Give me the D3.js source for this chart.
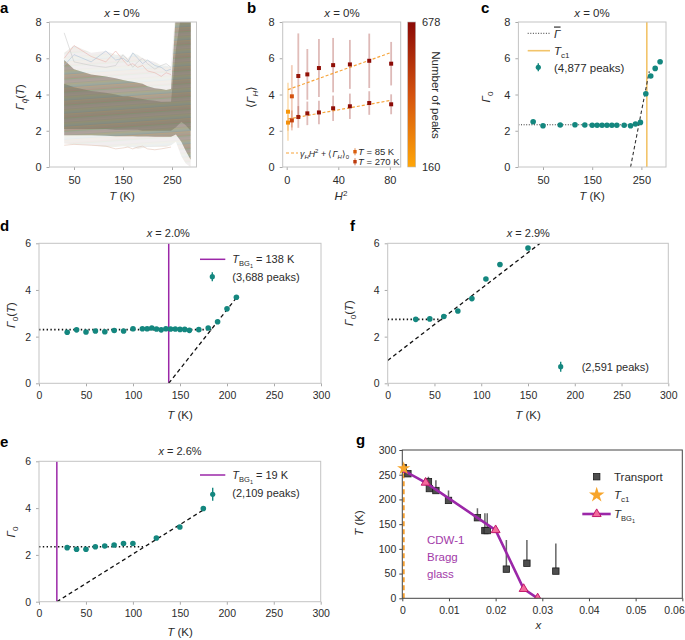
<!DOCTYPE html>
<html><head><meta charset="utf-8">
<script src="https://cdn.jsdelivr.net/npm/d3@7"></script>
<style>body{margin:0;background:#fff;}svg{display:block;}</style>
</head><body><svg id="c" width="685" height="640"></svg>
<script>
// ---------- DATA ----------
// panel a: envelope of the 4,877 individual traces
const aT       = [30,50,85,115,135,150,160,170,180,190,200,215,228,238,248,258,269,278,288];
const aOuterHi = [6.3,6.7,6.3,6.4,6.2,6.2,6.0,6.3,6.2,6.0,5.9,5.8,5.6,5.6,5.5,9,9,9,9];
const aOuterLo = [1.3,1.25,1.2,1.1,1.1,1.15,1.1,1.1,1.0,1.05,1.1,1.1,1.1,1.1,1.2,1.4,0.6,0.2,0.0];
const aMidHi   = [5.9,5.4,5.1,5.0,4.9,4.8,4.75,4.7,4.65,4.6,4.45,4.35,4.3,4.25,4.3,8.5,9,9,9];
const aMidLo   = [1.75,1.75,1.75,1.72,1.7,1.7,1.7,1.7,1.68,1.68,1.68,1.67,1.67,1.67,1.67,1.8,1.4,0.9,0.4];
const aCoreHi  = [4.6,4.4,4.2,4.1,4.0,3.9,3.9,3.85,3.8,3.75,3.7,3.65,3.6,3.6,3.6,6.5,8.5,9,9];
const aCoreLo  = [2.1,2.1,2.1,2.1,2.05,2.05,2.05,2.05,2.05,2.0,2.0,2.0,2.0,2.0,2.0,2.2,2.5,2.3,2.0];
const aTrace1  = [6.0,6.7,6.1,5.8,6.4,5.9,5.6,5.7,5.5,5.6,5.3,5.2,5.0,5.2,5.1];
const aTrace2  = [5.6,6.2,5.8,6.4,5.9,6.0,5.8,6.3,6.0,5.7,5.9,5.6,5.5,5.3,5.4];
const aTrace3  = [7.4,5.8,5.6,5.5,5.6,6.2,5.9,5.5,5.8,6.0,5.7,5.4,5.6,5.7,5.5];
const aTrace4  = [1.2,1.25,1.2,1.15,1.0,1.05,1.1,1.0,1.1,1.15,1.0,0.95,1.0,1.05,1.1];

// panel b
const bH2 = [1,4,9,16,25,36,49,64,81];
const b270 = [3.05,3.9,5.02,5.11,5.46,5.62,5.66,5.86,5.7];
const b270Err = [1.6,1.72,2.35,1.4,1.6,1.5,1.35,1.5,1.2];
const b270Peaks = [210,420,640,650,660,665,670,675,678];
const b85 = [2.45,2.57,2.76,2.96,3.01,3.24,3.35,3.53,3.46];
const b85Err = [0.45,0.55,0.6,0.65,0.65,0.7,0.7,0.65,0.55];
const b85Peaks = [230,470,610,650,660,665,670,675,678];
const bFit270 = [[1,4.27],[81,6.32]];
const bFit85 = [[1,2.65],[81,3.68]];
const peakRange = [160,678];

// panel c
const cT = [30,50,85,115,135,150,160,170,180,190,200,215,228,238,248,259,269,278,288];
const cG = [2.5,2.28,2.32,2.33,2.32,2.3,2.3,2.3,2.3,2.3,2.3,2.3,2.28,2.37,2.46,4.04,5.02,5.44,5.81];
const cMean = [[0,2.33],[245,2.33]];
const cFit = [[228,0],[266,5.28]];
const cTc1 = 261;

// panel d
const dT = [30,40,50,60,70,80,90,100,110,115,120,125,130,135,140,145,150,155,160,170,180,190,200,210];
const dG = [2.19,2.29,2.2,2.24,2.21,2.26,2.24,2.34,2.34,2.34,2.37,2.33,2.29,2.34,2.33,2.33,2.31,2.31,2.27,2.3,2.37,2.64,3.19,3.69];
const dMean = [[0,2.3],[186,2.3]];
const dFit = [[138,0],[210.5,3.69]];
const dTBG = 138;

// panel e
const eT = [30,40,50,60,70,80,90,100,125,150,175];
const eG = [2.31,2.24,2.24,2.35,2.38,2.42,2.49,2.49,2.72,3.19,3.98];
const eMean = [[0,2.35],[113,2.35]];
const eFit = [[19,0],[175,3.92]];
const eTBG = 19;

// panel f
const fT = [30,45,60,75,90,105,120,150];
const fG = [2.74,2.76,2.86,3.1,3.63,4.47,5.09,5.8];
const fMean = [[0,2.74],[60,2.74]];
const fFit = [[0,0.98],[163,6]];

// panel g
const gTransX = [0.0002,0.0012,0.0056,0.0058,0.0072,0.0099,0.0161,0.0177,0.0182,0.0223,0.0267,0.0329];
const gTransT = [264,252,236,222,218,198,163,137,137,59,71,55];
const gTransTop = [264,258,246,222,239,218,182,172,172,118,118,111];
const gBGx = [0,0.005,0.020,0.026,0.029];
const gBGT = [260,234,138,19,0];
const gTc1 = [0.0003,263];

// ticks
const tTicks300 = [0,50,100,150,200,250,300];
const tTicksA = [50,150,250];
const gXTicks = [0,0.01,0.02,0.03,0.04,0.05,0.06];
const gYTicks = [0,50,100,150,200,250,300];

// ---------- DRAWING ----------
const FONT = '"Liberation Sans", Arial, Helvetica, sans-serif';
const TXT = '#2b2b2b';
const TEAL = '#14877f';
const PURPLE = '#9b27a8';
const svg = d3.select('#c');
const defs = svg.append('defs');

function rich(parent, x, y, parts, o = {}) {
  const fs = o.fs || 11;
  const t = parent.append('text').attr('x', x).attr('y', y).attr('font-size', fs)
    .attr('fill', o.fill || TXT).attr('font-family', FONT).attr('text-anchor', o.anchor || 'start');
  if (o.rot) t.attr('transform', `rotate(${o.rot},${x},${y})`);
  let cur = 0;
  parts.forEach(p => {
    if (typeof p === 'string') p = { t: p };
    const s = p.s || 0;
    const ts = t.append('tspan').text(p.t).attr('dy', s - cur);
    cur = s;
    if (p.i) ts.attr('font-style', 'italic');
    if (p.f) ts.attr('font-size', p.f);
    if (p.o) ts.attr('text-decoration', 'overline');
  });
  return t;
}

function makePanel(id, px, py, xdom, ydom, opt) {
  const x = d3.scaleLinear().domain(xdom).range(px);
  const y = d3.scaleLinear().domain(ydom).range(py);
  const g = svg.append('g');
  defs.append('clipPath').attr('id', 'clip-' + id).append('rect')
    .attr('x', px[0]).attr('y', py[1]).attr('width', px[1] - px[0]).attr('height', py[0] - py[1]);
  const fmt = opt.xf || (d => d);
  const ax = g.append('g').attr('transform', `translate(0,${py[0]})`)
    .call(d3.axisBottom(x).tickValues(opt.xt).tickFormat(fmt).tickSize(3).tickPadding(opt.xpad || 5));
  const ay = g.append('g').attr('transform', `translate(${px[0]},0)`)
    .call(d3.axisLeft(y).tickValues(opt.yt).tickFormat(d => d).tickSize(3).tickPadding(opt.ypad || 5));
  [ax, ay].forEach(a => {
    a.select('.domain').remove();
    a.selectAll('line').attr('stroke', opt.tc || '#aaa');
    a.selectAll('text').attr('fill', TXT).attr('font-size', opt.fs).attr('font-family', FONT);
  });
  const plot = g.append('g').attr('clip-path', `url(#clip-${id})`);
  g.append('rect').attr('x', px[0]).attr('y', py[1]).attr('width', px[1] - px[0]).attr('height', py[0] - py[1])
    .attr('fill', 'none').attr('stroke', opt.frame || '#c4c4c4').attr('stroke-width', 1);
  return { x, y, g, plot, ax, ay };
}

function seg(P, pts, style) {
  const line = d3.line().x(d => P.x(d[0])).y(d => P.y(d[1]));
  return P.plot.append('path').attr('d', line(pts)).attr('fill', 'none')
    .attr('stroke', style.c || '#111').attr('stroke-width', style.w || 1.3)
    .attr('stroke-dasharray', style.dash || null);
}
const DOT = { c: '#111', w: 1.6, dash: '1.4,2.4' };
const DASH = { c: '#111', w: 1.3, dash: '4,3' };

function tealPoints(P, xs, ys) {
  P.plot.selectAll(null).data(xs).enter().append('circle')
    .attr('cx', d => P.x(d)).attr('cy', (d, i) => P.y(ys[i])).attr('r', 2.8).attr('fill', TEAL);
}
function tealLegendMarker(g, x, y, h) {
  g.append('line').attr('x1', x).attr('x2', x).attr('y1', y - h).attr('y2', y + h).attr('stroke', TEAL).attr('stroke-width', 1.4);
  g.append('circle').attr('cx', x).attr('cy', y).attr('r', 2.6).attr('fill', TEAL);
}
function panelLabel(x, y, s) {
  svg.append('text').attr('x', x).attr('y', y).text(s).attr('font-family', FONT)
    .attr('font-weight', 'bold').attr('font-size', 15).attr('fill', '#000');
}

// ===== panel a =====
const tab10 = ['#1f77b4','#ff7f0e','#8c564b','#d62728','#2ca02c','#9467bd','#e377c2','#7f7f7f','#bcbd22','#17becf'];
const pat = defs.append('pattern').attr('id', 'traces').attr('patternUnits', 'userSpaceOnUse')
  .attr('width', 60).attr('height', 13).attr('patternTransform', 'rotate(-4)');
tab10.forEach((c, i) => pat.append('rect').attr('x', 0).attr('y', i * 1.3).attr('width', 60).attr('height', 0.8).attr('fill', c).attr('opacity', 0.5));

const A = makePanel('a', [49.5, 196.5], [167, 22], [0, 300], [0, 8], { xt: tTicksA, yt: [0,2,4,6,8], fs: 11, xpad: 6 });
function band(P, lo, hi, fill, op) {
  const ar = d3.area().x((d, i) => P.x(aT[i])).y0((d, i) => P.y(lo[i])).y1((d, i) => P.y(hi[i]));
  return P.plot.append('path').attr('d', ar(aT)).attr('fill', fill).attr('opacity', op);
}
band(A, aOuterLo, aOuterHi, '#e9e7e3', 0.55);
band(A, aOuterLo, aOuterHi, 'url(#traces)', 0.12);
band(A, aMidLo, aMidHi, '#aba797', 1);
band(A, aMidLo, aMidHi, 'url(#traces)', 0.35);
band(A, aCoreLo, aCoreHi, '#8f8b79', 1);
band(A, aCoreLo, aCoreHi, 'url(#traces)', 0.25);
[[aTrace1,'#e8b0a8'],[aTrace2,'#a8c0d8'],[aTrace3,'#c8c8c8'],[aTrace4,'#e0c0b0']].forEach(([tr, c]) => {
  const ln = d3.line().x((d, i) => A.x(aT[i])).y(d => A.y(d));
  A.plot.append('path').attr('d', ln(tr)).attr('fill', 'none').attr('stroke', c).attr('stroke-width', 0.7).attr('opacity', 0.8);
});
rich(svg, 122, 17, [{ t: 'x', i: 1 }, ' = 0%'], { anchor: 'middle', fs: 11.5 });
rich(svg, 122, 200, [{ t: 'T', i: 1 }, ' (K)'], { anchor: 'middle', fs: 11.5 });
rich(svg, 24, 97, [{ t: 'Γ', i: 1 }, { t: 'q̃', i: 1, s: 3, f: 8 }, { t: '(' }, { t: 'T', i: 1 }, ')'], { anchor: 'middle', rot: -90, fs: 11.5 });
panelLabel(0, 13, 'a');

// ===== panel b =====
const B = makePanel('b', [282.7, 400.7], [167, 22], [-3.1, 88.4], [0, 8], { xt: [0, 40, 80], yt: [0,2,4,6,8], fs: 11, xpad: 6 });
const pcol = d3.scaleLinear().domain([peakRange[0], (peakRange[0] + peakRange[1]) / 2, peakRange[1]])
  .range(['#ffa608', '#d4520f', '#8b0a06']);
function bSeries(vals, errs, peaks) {
  bH2.forEach((h, i) => {
    B.plot.append('line').attr('x1', B.x(h)).attr('x2', B.x(h)).attr('y1', B.y(vals[i] - errs[i])).attr('y2', B.y(vals[i] + errs[i]))
      .attr('stroke', pcol(peaks[i])).attr('stroke-width', 1.8).attr('opacity', 0.28);
  });
}
bSeries(b270, b270Err, b270Peaks);
bSeries(b85, b85Err, b85Peaks);
seg(B, bFit270, { c: '#f7a43a', w: 1.2, dash: '3,2' });
seg(B, bFit85, { c: '#f7a43a', w: 1.2, dash: '3,2' });
[[b270, b270Peaks], [b85, b85Peaks]].forEach(([vals, peaks]) => {
  bH2.forEach((h, i) => {
    B.plot.append('rect').attr('x', B.x(h) - 2).attr('y', B.y(vals[i]) - 2).attr('width', 4).attr('height', 4).attr('fill', pcol(peaks[i]));
  });
});
// legend b
svg.append('line').attr('x1', 286).attr('x2', 298).attr('y1', 153).attr('y2', 153).attr('stroke', '#f7a43a').attr('stroke-width', 1.2).attr('stroke-dasharray', '3,2');
rich(svg, 300, 156.5, [{ t: 'γ', i: 1 }, { t: 'H', i: 1, s: 2.5, f: 6 }, { t: 'H', i: 1 }, { t: '2', s: -3.5, f: 6 }, ' + ⟨', { t: 'Γ', i: 1 }, { t: 'H', i: 1, s: 2.5, f: 6 }, '⟩', { t: '0', s: 2.5, f: 6 }], { fs: 8.8 });
[[151.7, 380], [161.7, 500]].forEach(([yy, pk]) => {
  svg.append('line').attr('x1', 355).attr('x2', 355).attr('y1', yy - 3.5).attr('y2', yy + 3.5).attr('stroke', pcol(pk)).attr('stroke-width', 1.2).attr('opacity', 0.6);
  svg.append('rect').attr('x', 353.3).attr('y', yy - 1.7).attr('width', 3.4).attr('height', 3.4).attr('fill', pcol(pk));
});
rich(svg, 358, 155.3, [{ t: 'T', i: 1 }, ' = 85 K'], { fs: 9.5 });
rich(svg, 358, 165.3, [{ t: 'T', i: 1 }, ' = 270 K'], { fs: 9.5 });
// colorbar
const grad = defs.append('linearGradient').attr('id', 'cbar').attr('x1', 0).attr('x2', 0).attr('y1', 1).attr('y2', 0);
d3.range(0, 1.01, 0.1).forEach(t => grad.append('stop').attr('offset', t).attr('stop-color', pcol(peakRange[0] + t * (peakRange[1] - peakRange[0]))));
svg.append('rect').attr('x', 407.7).attr('y', 22).attr('width', 8).attr('height', 145).attr('fill', 'url(#cbar)').attr('stroke', '#bbb').attr('stroke-width', 0.6);
rich(svg, 422, 26, [String(peakRange[1])], { fs: 11 });
rich(svg, 422, 171, [String(peakRange[0])], { fs: 11 });
rich(svg, 432, 95, ['Number of peaks'], { anchor: 'middle', rot: 90, fs: 11.5 });
rich(svg, 342, 17, [{ t: 'x', i: 1 }, ' = 0%'], { anchor: 'middle', fs: 11.5 });
rich(svg, 341, 200, [{ t: 'H', i: 1 }, { t: '2', s: -4, f: 8 }], { anchor: 'middle', fs: 11.5 });
rich(svg, 255, 97, ['⟨', { t: 'Γ', i: 1 }, { t: 'H', i: 1, s: 3, f: 8 }, { t: '⟩', s: 0 }], { anchor: 'middle', rot: -90, fs: 11.5 });
panelLabel(247, 13, 'b');

// ===== panel c =====
const C = makePanel('c', [518.4, 666], [167, 22], [0, 300], [0, 8], { xt: tTicksA, yt: [0,2,4,6,8], fs: 11, xpad: 6 });
C.plot.append('line').attr('x1', C.x(cTc1)).attr('x2', C.x(cTc1)).attr('y1', C.y(0)).attr('y2', C.y(8)).attr('stroke', '#f2c46a').attr('stroke-width', 1.6);
seg(C, cMean, { c: '#333', w: 1, dash: '1,1.6' });
seg(C, cFit, { c: '#333', w: 1.1, dash: '3.5,2.5' });
tealPoints(C, cT, cG);
svg.append('line').attr('x1', 527.7).attr('x2', 550).attr('y1', 33.3).attr('y2', 33.3).attr('stroke', '#333').attr('stroke-width', 1).attr('stroke-dasharray', '1,1.6');
rich(svg, 554, 37.5, [{ t: 'Γ', i: 1, o: 1 }], { fs: 11.5 });
svg.append('line').attr('x1', 527.7).attr('x2', 550).attr('y1', 50.7).attr('y2', 50.7).attr('stroke', '#f2c46a').attr('stroke-width', 1.6);
rich(svg, 554, 55, [{ t: 'T', i: 1 }, { t: 'c1', s: 3, f: 8 }], { fs: 11.5 });
tealLegendMarker(svg, 538.3, 67.3, 4);
rich(svg, 554, 71.5, ['(4,877 peaks)'], { fs: 11.5 });
rich(svg, 592, 17, [{ t: 'x', i: 1 }, ' = 0%'], { anchor: 'middle', fs: 11.5 });
rich(svg, 592, 200, [{ t: 'T', i: 1 }, ' (K)'], { anchor: 'middle', fs: 11.5 });
rich(svg, 490, 97, [{ t: 'Γ', i: 1 }, { t: '0', s: 3, f: 8 }], { anchor: 'middle', rot: -90, fs: 11.5 });
panelLabel(481, 13, 'c');

// ===== panel d =====
const D = makePanel('d', [39, 321], [383.3, 243.3], [0, 300], [0, 6], { xt: tTicks300, yt: [0,2,4,6], fs: 10.5 });
D.plot.append('line').attr('x1', D.x(dTBG)).attr('x2', D.x(dTBG)).attr('y1', D.y(0)).attr('y2', D.y(6)).attr('stroke', PURPLE).attr('stroke-width', 1.5);
seg(D, dMean, DOT);
seg(D, dFit, DASH);
tealPoints(D, dT, dG);
svg.append('line').attr('x1', 200).attr('x2', 225.3).attr('y1', 259.3).attr('y2', 259.3).attr('stroke', PURPLE).attr('stroke-width', 1.5);
rich(svg, 232.3, 263.3, [{ t: 'T', i: 1 }, { t: 'BG', s: 2.5, f: 7.5 }, { t: '1', s: 4.5, f: 5.5 }, { t: ' = ' + dTBG + ' K', s: 0 }], { fs: 11 });
tealLegendMarker(svg, 212.3, 276.7, 4.5);
rich(svg, 232.3, 281, ['(3,688 peaks)'], { fs: 11 });
rich(svg, 168.3, 237, [{ t: 'x', i: 1 }, ' = 2.0%'], { anchor: 'middle', fs: 11 });
rich(svg, 180, 419, [{ t: 'T', i: 1 }, ' (K)'], { anchor: 'middle', fs: 11.5 });
rich(svg, 15, 315, [{ t: 'Γ', i: 1 }, { t: '0', s: 3, f: 8 }, { t: '(', s: 0 }, { t: 'T', i: 1 }, ')'], { anchor: 'middle', rot: -90, fs: 11.5 });
panelLabel(0, 231, 'd');

// ===== panel f =====
const F = makePanel('f', [387.7, 668.3], [383.3, 243.3], [0, 300], [0, 6], { xt: tTicks300, yt: [0,2,4,6], fs: 10.5 });
seg(F, fMean, DOT);
seg(F, fFit, DASH);
tealPoints(F, fT, fG);
tealLegendMarker(svg, 560.7, 366.7, 5);
rich(svg, 581.7, 371, ['(2,591 peaks)'], { fs: 11 });
rich(svg, 528.3, 237, [{ t: 'x', i: 1 }, ' = 2.9%'], { anchor: 'middle', fs: 11 });
rich(svg, 528, 419, [{ t: 'T', i: 1 }, ' (K)'], { anchor: 'middle', fs: 11.5 });
rich(svg, 353, 313, [{ t: 'Γ', i: 1 }, { t: '0', s: 3, f: 8 }, { t: '(', s: 0 }, { t: 'T', i: 1 }, ')'], { anchor: 'middle', rot: -90, fs: 11.5 });
panelLabel(350, 231, 'f');

// ===== panel e =====
const E = makePanel('e', [39, 320.7], [601.7, 461.3], [0, 300], [0, 6], { xt: tTicks300, yt: [0,2,4,6], fs: 10.5 });
E.plot.append('line').attr('x1', E.x(eTBG)).attr('x2', E.x(eTBG)).attr('y1', E.y(0)).attr('y2', E.y(6)).attr('stroke', PURPLE).attr('stroke-width', 1.5);
seg(E, eMean, DOT);
seg(E, eFit, DASH);
tealPoints(E, eT, eG);
svg.append('line').attr('x1', 200).attr('x2', 225.3).attr('y1', 475).attr('y2', 475).attr('stroke', PURPLE).attr('stroke-width', 1.5);
rich(svg, 232.3, 479, [{ t: 'T', i: 1 }, { t: 'BG', s: 2.5, f: 7.5 }, { t: '1', s: 4.5, f: 5.5 }, { t: ' = ' + eTBG + ' K', s: 0 }], { fs: 11 });
tealLegendMarker(svg, 212.7, 494.3, 6.5);
rich(svg, 232.3, 496.5, ['(2,109 peaks)'], { fs: 11 });
rich(svg, 180, 455, [{ t: 'x', i: 1 }, ' = 2.6%'], { anchor: 'middle', fs: 11 });
rich(svg, 180, 636, [{ t: 'T', i: 1 }, ' (K)'], { anchor: 'middle', fs: 11.5 });
rich(svg, 15, 532, [{ t: 'Γ', i: 1 }, { t: '0', s: 3, f: 8 }], { anchor: 'middle', rot: -90, fs: 11.5 });
panelLabel(0, 447, 'e');

// ===== panel g =====
const G = makePanel('g', [402.3, 682.3], [598.3, 450], [0, 0.06], [0, 300],
  { xt: gXTicks, yt: gYTicks, fs: 10.5, xf: d => d === 0 ? '0' : d.toFixed(2), ypad: 3, frame: '#444', tc: '#444' });
// keep last x tick label inside the picture
G.ax.selectAll('.tick text').filter(d => d === 0.06).attr('text-anchor', 'end').attr('dx', 2);
G.plot.append('line').attr('x1', G.x(gTc1[0])).attr('x2', G.x(gTc1[0])).attr('y1', G.y(0)).attr('y2', G.y(gTc1[1]))
  .attr('stroke', '#f5a030').attr('stroke-width', 2).attr('stroke-dasharray', '5,3');
gTransX.forEach((xv, i) => {
  if (gTransTop[i] > gTransT[i]) G.plot.append('line').attr('x1', G.x(xv)).attr('x2', G.x(xv)).attr('y1', G.y(gTransT[i])).attr('y2', G.y(gTransTop[i])).attr('stroke', '#666').attr('stroke-width', 1.5);
});
gTransX.forEach((xv, i) => {
  G.plot.append('rect').attr('x', G.x(xv) - 3.2).attr('y', G.y(gTransT[i]) - 3.2).attr('width', 6.4).attr('height', 6.4)
    .attr('fill', '#4e4e4e').attr('stroke', '#1c1c1c').attr('stroke-width', 0.8);
});
const bgLine = d3.line().x((d, i) => G.x(gBGx[i])).y(d => G.y(d));
G.plot.append('path').attr('d', bgLine(gBGT)).attr('fill', 'none').attr('stroke', PURPLE).attr('stroke-width', 2.6);
const tri = d3.symbol().type(d3.symbolTriangle).size(34);
gBGx.forEach((xv, i) => {
  G.plot.append('path').attr('d', tri()).attr('transform', `translate(${G.x(xv)},${G.y(gBGT[i])})`)
    .attr('fill', '#f26b9c').attr('stroke', '#c2186a').attr('stroke-width', 1);
});
const star = d3.symbol().type(d3.symbolStar);
G.g.append('path').attr('d', star.size(55)()).attr('transform', `translate(${G.x(gTc1[0])},${G.y(gTc1[1])})`).attr('fill', '#f7a52b');
['CDW-1', 'Bragg', 'glass'].forEach((s, i) => rich(svg, 427, 544 + i * 17, [s], { fs: 11.5, fill: '#a23aa8' }));
// legend g
svg.append('rect').attr('x', 593.5).attr('y', 473.5).attr('width', 6.4).attr('height', 6.4).attr('fill', '#4e4e4e').attr('stroke', '#1c1c1c').attr('stroke-width', 0.8);
rich(svg, 614, 481, ['Transport'], { fs: 11.5 });
svg.append('path').attr('d', star.size(75)()).attr('transform', 'translate(596.7,495)').attr('fill', '#f7a52b');
rich(svg, 614, 499, [{ t: 'T', i: 1 }, { t: 'c1', s: 3, f: 8 }], { fs: 11.5 });
svg.append('line').attr('x1', 582.3).attr('x2', 610.7).attr('y1', 514).attr('y2', 514).attr('stroke', PURPLE).attr('stroke-width', 2.6);
svg.append('path').attr('d', tri()).attr('transform', 'translate(596.7,514)').attr('fill', '#f26b9c').attr('stroke', '#c2186a').attr('stroke-width', 1);
rich(svg, 614, 518, [{ t: 'T', i: 1 }, { t: 'BG', s: 3, f: 7.5 }, { t: '1', s: 5, f: 5.5 }], { fs: 11.5 });
rich(svg, 538.3, 629, [{ t: 'x', i: 1 }], { anchor: 'middle', fs: 11.5 });
rich(svg, 363, 523, [{ t: 'T', i: 1 }, ' (K)'], { anchor: 'middle', rot: -90, fs: 11.5 });
panelLabel(356, 445, 'g');
</script></body></html>
